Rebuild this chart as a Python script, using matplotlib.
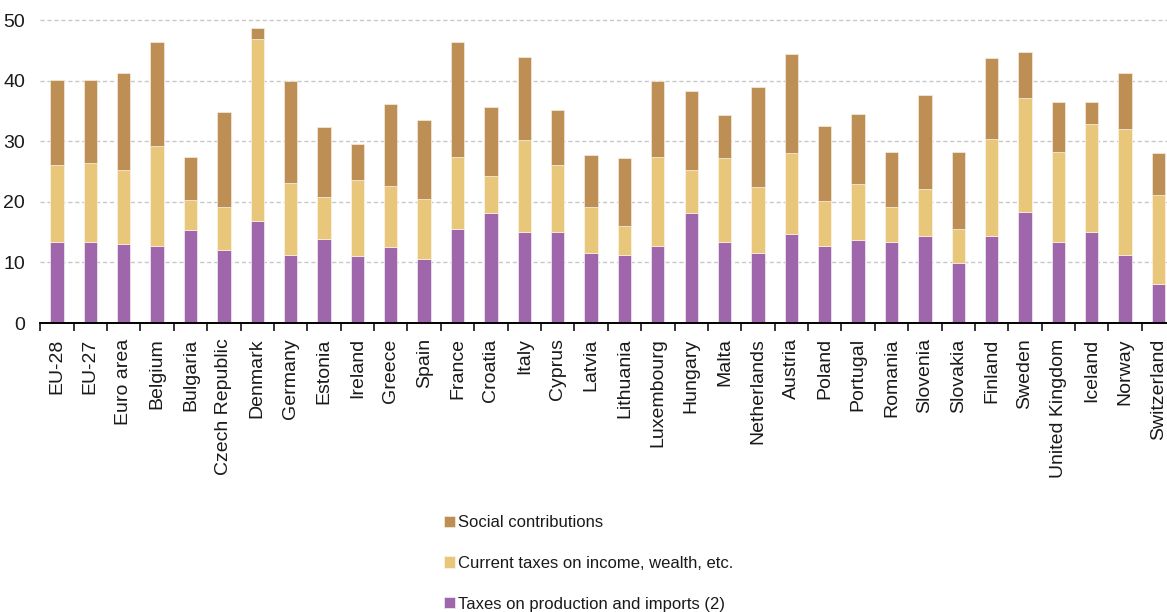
import matplotlib
matplotlib.use("Agg")
import matplotlib.pyplot as plt
import numpy as np

categories = ["EU-28", "EU-27", "Euro area", "Belgium", "Bulgaria", "Czech Republic",
              "Denmark", "Germany", "Estonia", "Ireland", "Greece", "Spain", "France",
              "Croatia", "Italy", "Cyprus", "Latvia", "Lithuania", "Luxembourg", "Hungary",
              "Malta", "Netherlands", "Austria", "Poland", "Portugal", "Romania", "Slovenia",
              "Slovakia", "Finland", "Sweden", "United Kingdom", "Iceland", "Norway",
              "Switzerland"]

taxes_production = [13.4, 13.4, 13.1, 12.8, 15.3, 12.1, 16.8, 11.2, 13.9, 11.0, 12.6,
                    10.5, 15.5, 18.2, 15.0, 15.0, 11.5, 11.2, 12.8, 18.2, 13.4, 11.5,
                    14.7, 12.8, 13.7, 13.4, 14.4, 9.9, 14.4, 18.4, 13.4, 15.0, 11.2, 6.4]
current_taxes = [12.7, 13.0, 12.2, 16.5, 5.0, 7.1, 30.1, 12.0, 6.9, 12.7, 10.1, 10.0,
                 12.0, 6.1, 15.2, 11.1, 7.7, 4.8, 14.7, 7.1, 13.8, 10.9, 13.3, 7.3, 9.3,
                 5.8, 7.7, 5.6, 16.0, 18.7, 14.9, 17.8, 20.8, 14.7]
social_contributions = [14.1, 13.8, 16.0, 17.1, 7.2, 15.7, 1.9, 16.8, 11.5, 5.9, 13.5,
                        13.1, 18.9, 11.4, 13.8, 9.1, 8.5, 11.2, 12.5, 13.1, 7.2, 16.5,
                        16.5, 12.4, 11.6, 9.1, 15.5, 12.8, 13.3, 7.7, 8.2, 3.7, 9.3, 6.9]

series_labels = ["Taxes on production and imports (2)",
                 "Current taxes on income, wealth, etc.",
                 "Social contributions"]
y_ticks = [0, 10, 20, 30, 40, 50]

c_purple = "#A066AC"
c_yellow = "#E8C67A"
c_brown = "#BE8F54"
text_col = "#1a1a1a"

W, H = 1167, 612
fig = plt.figure(figsize=(W / 100, H / 100), dpi=100)
left = 40.3 / W
right_px = 1175.2
bottom = (H - 323.0) / H
top = (H - 20.3) / H
ax = fig.add_axes([left, bottom, (right_px - 40.3) / W, top - bottom])

x = np.arange(len(categories))
p = np.array(taxes_production)
c = np.array(current_taxes)
s = np.array(social_contributions)
bw = 0.40
b1 = ax.bar(x, p, width=bw, color=c_purple, edgecolor="#f4eef6", linewidth=0.5,
            label=series_labels[0], zorder=3)
b2 = ax.bar(x, c, width=bw, bottom=p, color=c_yellow, edgecolor="#fbf4e6", linewidth=0.5,
            label=series_labels[1], zorder=3)
b3 = ax.bar(x, s, width=bw, bottom=p + c, color=c_brown, edgecolor="#f6ece0", linewidth=0.5,
            label=series_labels[2], zorder=3)

ax.set_xlim(-0.5, len(categories) - 0.5)
ax.set_ylim(0, 50)
ax.set_yticks(y_ticks)
ax.set_yticklabels([str(v) for v in y_ticks], family=["Liberation Sans", "DejaVu Sans"],
                   fontsize=14, color=text_col)
ax.tick_params(axis="y", length=0, pad=11)

ax.set_xticks(x)
ax.set_xticklabels(categories, rotation=90, family=["Liberation Sans", "DejaVu Sans"],
                   fontsize=14, color=text_col, va="top", ha="center")
ax.tick_params(axis="x", which="major", length=0, pad=11)
ax.set_xticks(np.arange(len(categories) + 1) - 0.5, minor=True)
ax.tick_params(axis="x", which="minor", length=6, width=1.1, color="black", direction="out")

for v in y_ticks[1:]:
    ax.axhline(v, color="#c8c8c8", linewidth=1.0, linestyle=(0, (3, 2)), zorder=1, clip_on=False)

for sp in ["left", "right", "top"]:
    ax.spines[sp].set_visible(False)
ax.spines["bottom"].set_color("black")
ax.spines["bottom"].set_linewidth(1.4)
ax.spines["bottom"].set_zorder(4)

handles = [b3, b2, b1]
labels = [series_labels[2], series_labels[1], series_labels[0]]
leg = fig.legend(handles, labels, loc="upper left",
                 bbox_to_anchor=(444 / W, 1 - 515 / H),
                 frameon=False, handlelength=0.65, handleheight=0.65, handletextpad=0.22,
                 labelspacing=1.55, borderpad=0, borderaxespad=0,
                 prop={"family": ["Liberation Sans", "DejaVu Sans"], "size": 12})
for t in leg.get_texts():
    t.set_color(text_col)

fig.savefig("out.png", dpi=100)
